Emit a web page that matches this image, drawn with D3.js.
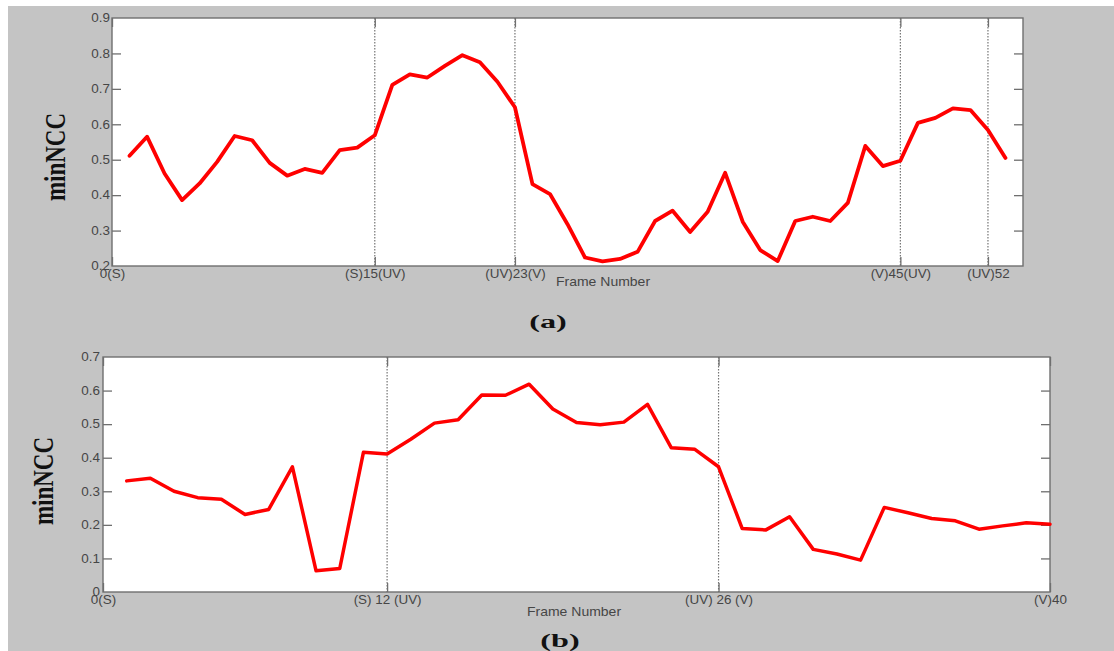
<!DOCTYPE html>
<html>
<head>
<meta charset="utf-8">
<script src="https://cdn.jsdelivr.net/npm/d3@7"></script>
<style>
  html, body { margin: 0; padding: 0; background: #ffffff; }
  svg { display: block; }
</style>
</head>
<body>
<svg id="fig" width="1114" height="651"></svg>
<script>
// ---- panel (a): minNCC per frame, frames 1..51 ----
const framesA = d3.range(1, 52);
const minNccA = [
  0.511, 0.565, 0.461, 0.386, 0.433, 0.494, 0.567, 0.555, 0.491, 0.455,
  0.474, 0.463, 0.527, 0.534, 0.569, 0.711, 0.741, 0.732, 0.765, 0.795,
  0.775, 0.720, 0.648, 0.431, 0.403, 0.318, 0.224, 0.213, 0.220, 0.240,
  0.327, 0.356, 0.296, 0.353, 0.463, 0.325, 0.245, 0.214, 0.327, 0.339,
  0.327, 0.378, 0.539, 0.482, 0.497, 0.604, 0.618, 0.645, 0.640, 0.584,
  0.505
];
const tickPosA = [0, 15, 23, 45, 50];
const tickLabelA = ["0(S)", "(S)15(UV)", "(UV)23(V)", "(V)45(UV)", "(UV)52"];
const gridPosA = [15, 23, 45, 50];
const yTicksA = [0.2, 0.3, 0.4, 0.5, 0.6, 0.7, 0.8, 0.9];

// ---- panel (b): minNCC per frame, frames 1..40 ----
const framesB = d3.range(1, 41);
const minNccB = [
  0.331, 0.339, 0.300, 0.281, 0.276, 0.231, 0.246, 0.373, 0.063, 0.070,
  0.416, 0.411, 0.455, 0.503, 0.513, 0.587, 0.586, 0.619, 0.545, 0.505,
  0.498, 0.506, 0.559, 0.430, 0.425, 0.373, 0.189, 0.185, 0.224, 0.127,
  0.113, 0.095, 0.252, 0.236, 0.219, 0.212, 0.187, 0.197, 0.206, 0.202
];
const tickPosB = [0, 12, 26, 40];
const tickLabelB = ["0(S)", "(S) 12 (UV)", "(UV) 26 (V)", "(V)40"];
const gridPosB = [12, 26];
const yTicksB = [0, 0.1, 0.2, 0.3, 0.4, 0.5, 0.6, 0.7];

const svg = d3.select("#fig");
const SANS = "'Liberation Sans', Arial, sans-serif";
const SERIF = "'Liberation Serif', 'Times New Roman', serif";
const AXIS_GREY = "#6f6f6f";
const LABEL_GREY = "#464646";
const STRETCH = 1.12;

// figure background
svg.append("rect").attr("x", 8).attr("y", 6).attr("width", 1106).attr("height", 645)
  .attr("fill", "#c4c4c4");

function drawPanel(cfg) {
  const x = d3.scaleLinear().domain(cfg.xDomain).range([cfg.left, cfg.right]);
  const y = d3.scaleLinear().domain(cfg.yDomain).range([cfg.bottom, cfg.top]);
  const g = svg.append("g");

  g.append("rect")
    .attr("x", cfg.left).attr("y", cfg.top)
    .attr("width", cfg.right - cfg.left).attr("height", cfg.bottom - cfg.top)
    .attr("fill", "#ffffff");

  // dotted vertical grid at the marked frames
  g.selectAll("line.grid").data(cfg.grid).join("line")
    .attr("class", "grid")
    .attr("x1", d => x(d)).attr("x2", d => x(d))
    .attr("y1", cfg.top).attr("y2", cfg.bottom)
    .attr("stroke", "#747474").attr("stroke-width", 1.2)
    .attr("stroke-dasharray", "1.5,1.5");

  const styleAxis = sel => {
    sel.select(".domain").remove();
    sel.selectAll(".tick line").attr("stroke", AXIS_GREY).attr("stroke-width", 1.3);
    sel.selectAll(".tick text")
      .attr("fill", LABEL_GREY)
      .style("font-family", SANS).style("font-size", "12px");
  };

  // bottom axis with custom frame labels
  const gx = g.append("g").attr("transform", `translate(0,${cfg.bottom})`)
    .call(d3.axisBottom(x).tickValues(cfg.ticks)
      .tickFormat((d, i) => cfg.tickLabels[i])
      .tickSizeInner(-9).tickSizeOuter(0).tickPadding(3));
  styleAxis(gx);
  gx.selectAll(".tick text").attr("transform", `scale(${STRETCH},1)`);

  // top axis, ticks only
  const gxt = g.append("g").attr("transform", `translate(0,${cfg.top})`)
    .call(d3.axisTop(x).tickValues(cfg.ticks).tickFormat("")
      .tickSizeInner(-9).tickSizeOuter(0));
  styleAxis(gxt);

  // left axis
  const gy = g.append("g").attr("transform", `translate(${cfg.left},0)`)
    .call(d3.axisLeft(y).tickValues(cfg.yTicks).tickFormat(d3.format("~g"))
      .tickSizeInner(-9).tickSizeOuter(0).tickPadding(cfg.yPad));
  styleAxis(gy);
  gy.selectAll(".tick text")
    .attr("x", -cfg.yPad / STRETCH)
    .attr("transform", `scale(${STRETCH},1)`);
  gy.selectAll(".tick").filter(d => d === cfg.yDomain[0] || d === cfg.yDomain[1])
    .select("line").remove();

  // right axis, ticks only
  const gyr = g.append("g").attr("transform", `translate(${cfg.right},0)`)
    .call(d3.axisRight(y).tickValues(cfg.yTicks).tickFormat("")
      .tickSizeInner(-9).tickSizeOuter(0));
  styleAxis(gyr);
  gyr.selectAll(".tick").filter(d => d === cfg.yDomain[0] || d === cfg.yDomain[1])
    .select("line").remove();

  // axes box
  g.append("rect")
    .attr("x", cfg.left).attr("y", cfg.top)
    .attr("width", cfg.right - cfg.left).attr("height", cfg.bottom - cfg.top)
    .attr("fill", "none").attr("stroke", AXIS_GREY).attr("stroke-width", 1.4);

  // minNCC curve
  const line = d3.line().x((d, i) => x(cfg.frames[i])).y(d => y(d));
  g.append("path").datum(cfg.values)
    .attr("d", line)
    .attr("fill", "none").attr("stroke", "#ff0000")
    .attr("stroke-width", cfg.lineWidth)
    .attr("stroke-linejoin", "round").attr("stroke-linecap", "round");

  // x-axis title
  g.append("text")
    .attr("transform", `translate(${cfg.xTitle[0]},${cfg.xTitle[1]}) scale(${STRETCH},1)`)
    .attr("text-anchor", "middle")
    .attr("fill", LABEL_GREY)
    .style("font-family", SANS).style("font-size", "12.5px")
    .text("Frame Number");

  // y-axis title
  g.append("text")
    .attr("transform", `translate(${cfg.yTitle[0]},${cfg.yTitle[1]}) rotate(-90) scale(1,1.25)`)
    .attr("text-anchor", "middle")
    .attr("fill", "#111111")
    .style("font-family", SERIF).style("font-size", "23px").style("font-weight", "bold")
    .text("minNCC");

  // panel caption
  g.append("text")
    .attr("transform", `translate(${cfg.caption[0]},${cfg.caption[1]}) scale(1.7,1)`)
    .attr("text-anchor", "middle")
    .attr("fill", "#111111")
    .style("font-family", SERIF).style("font-size", "19px").style("font-weight", "bold")
    .text(cfg.captionText);
}

drawPanel({
  frames: framesA, values: minNccA,
  xDomain: [0, 52], yDomain: [0.2, 0.9],
  left: 112, right: 1023, top: 18, bottom: 266,
  ticks: tickPosA, tickLabels: tickLabelA, grid: gridPosA, yTicks: yTicksA,
  yPad: 2, lineWidth: 3.8,
  xTitle: [603, 286], yTitle: [65, 157],
  caption: [548, 328], captionText: "(a)"
});

drawPanel({
  frames: framesB, values: minNccB,
  xDomain: [0, 40], yDomain: [0, 0.7],
  left: 103, right: 1050, top: 357, bottom: 592,
  ticks: tickPosB, tickLabels: tickLabelB, grid: gridPosB, yTicks: yTicksB,
  yPad: 3, lineWidth: 3.5,
  xTitle: [574, 616], yTitle: [53, 481],
  caption: [560, 647], captionText: "(b)"
});
</script>
</body>
</html>
